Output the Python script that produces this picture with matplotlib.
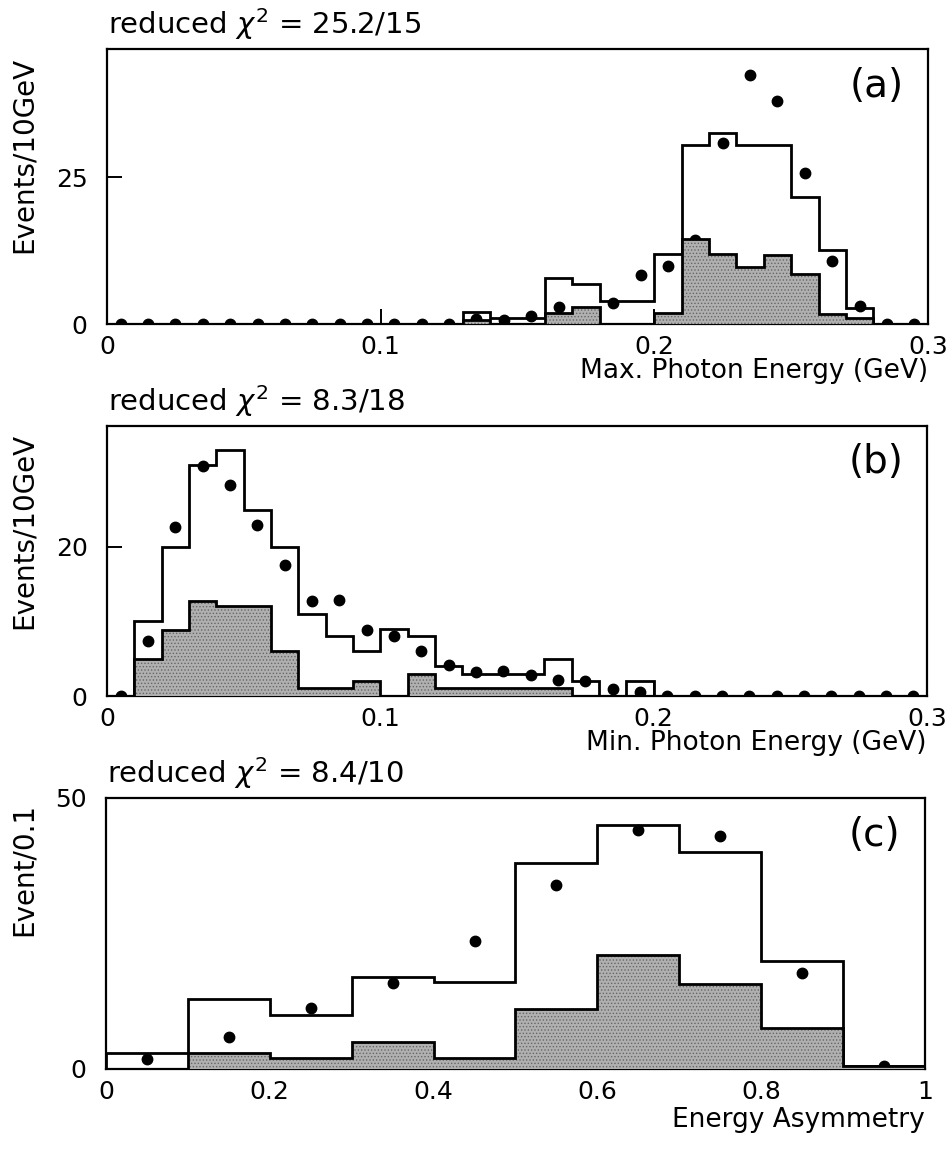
import numpy as np
import matplotlib
matplotlib.use('Agg')
import matplotlib.pyplot as plt

plt.rcParams['font.family'] = ['DejaVu Sans']
plt.rcParams['mathtext.fontset'] = 'dejavusans'
plt.rcParams['hatch.linewidth'] = 0.6

# --- data ----------------------------------------------------------------
# (a) max photon energy, 0.01 GeV bins from 0 to 0.3
edges_a = np.linspace(0.0, 0.3, 31)
mc_a = [0, 0, 0, 0, 0, 0, 0, 0, 0, 0, 0, 0, 0, 2, 1, 1, 7.8, 6.9, 3.9, 3.9,
        12, 30.5, 32.5, 30.5, 30.5, 21.7, 12.7, 2.7, 0, 0]
bg_a = [0, 0, 0, 0, 0, 0, 0, 0, 0, 0, 0, 0, 0, 0.7, 0, 0, 1.8, 2.9, 0, 0,
        1.8, 14.5, 12.0, 9.8, 11.7, 8.6, 1.7, 1.1, 0, 0]
data_a = [0, 0, 0, 0, 0, 0, 0, 0, 0, 0, 0, 0, 0, 0.8, 0.6, 1.4, 2.9, np.nan, 3.6, 8.3,
          9.9, 14.4, 30.9, 42.5, 38.0, 25.7, 10.7, 3.0, 0, 0]

# (b) min photon energy
edges_b = np.linspace(0.0, 0.3, 31)
mc_b = [0, 10, 20, 31, 33, 25, 20, 11, 8, 6, 9, 8, 4, 3, 3, 3, 5, 2, 0, 2,
        0, 0, 0, 0, 0, 0, 0, 0, 0, 0]
bg_b = [0, 5, 8.9, 12.8, 12, 12, 6, 1.1, 1.1, 2, 0, 2.9, 1.1, 1.1, 1.1, 1.1, 1.1, 0, 0, 0,
        0, 0, 0, 0, 0, 0, 0, 0, 0, 0]
data_b = [0, 7.4, 22.6, 30.8, 28.3, 22.9, 17.5, 12.7, 12.9, 8.9, 8.0, 6.1, 4.1, 3.2, 3.4,
          2.8, 2.1, 2.0, 0.9, 0.5, 0, 0, 0, 0, 0, 0, 0, 0, 0, 0]

# (c) energy asymmetry, 0.1 bins
edges_c = np.linspace(0.0, 1.0, 11)
mc_c = [3, 13, 10, 17, 16, 38, 45, 40, 20, 0.6]
bg_c = [0, 3, 2, 5, 2, 11, 21, 15.7, 7.6, 0.6]
data_c = [1.9, 5.9, 11.3, 15.9, 23.6, 34.0, 44.1, 42.9, 17.8, 0.6]

chi_texts = [r'reduced $\chi^2$ = 25.2/15', r'reduced $\chi^2$ = 8.3/18', r'reduced $\chi^2$ = 8.4/10']
panel_tags = ['(a)', '(b)', '(c)']
xlabels = ['Max. Photon Energy (GeV)', 'Min. Photon Energy (GeV)', 'Energy Asymmetry']
ylabels = ['Events/10GeV', 'Events/10GeV', 'Event/0.1']
xticks_e = [0, 0.1, 0.2, 0.3]
xticklabels_e = ['0', '0.1', '0.2', '0.3']
xticks_c = [0, 0.2, 0.4, 0.6, 0.8, 1.0]
xticklabels_c = ['0', '0.2', '0.4', '0.6', '0.8', '1']
yticks = [[0, 25], [0, 20], [0, 50]]
ylims = [46.9, 36.2, 50]

# --- layout (pixel boxes in a 953x1149 figure) ----------------------------
W, H = 953, 1149
boxes = [(107, 928, 49, 324), (107, 927, 426, 696), (106, 925, 798, 1069)]
label_gap = [54, 54, 58]
ylabel_top = [57, 433, 803]

fig = plt.figure(figsize=(W / 100, H / 100), dpi=100)

panels = [
    (edges_a, mc_a, bg_a, data_a, xticks_e, xticklabels_e),
    (edges_b, mc_b, bg_b, data_b, xticks_e, xticklabels_e),
    (edges_c, mc_c, bg_c, data_c, xticks_c, xticklabels_c),
]

for i, (edges, mc, bg, data, xt, xtl) in enumerate(panels):
    x0, x1, top, bot = boxes[i]
    ax = fig.add_axes([x0 / W, 1 - bot / H, (x1 - x0) / W, (bot - top) / H])
    h_px = bot - top

    centers = 0.5 * (edges[:-1] + edges[1:])

    # total expectation (open histogram)
    ax.stairs(mc, edges, color='black', linewidth=2.0, zorder=2)
    # data points
    ax.plot(centers, data, 'o', color='black', markersize=7.5, zorder=3)
    # background (shaded histogram)
    ax.stairs(bg, edges, fill=True, facecolor='#b0b0b0', edgecolor='#666666',
              hatch='.....', linewidth=0, zorder=4)
    ax.stairs(bg, edges, color='black', linewidth=2.0, zorder=5)

    ax.set_xlim(edges[0], edges[-1])
    ax.set_ylim(0, ylims[i])
    ax.set_xticks(xt, xtl)
    ax.set_yticks(yticks[i], [str(v) for v in yticks[i]])
    ax.tick_params(axis='both', direction='in', length=11, width=1.4, labelsize=18)
    ax.tick_params(axis='y', pad=14)
    ax.tick_params(axis='x', pad=8)
    for s in ax.spines.values():
        s.set_linewidth(1.6)

    ax.set_xlabel(xlabels[i], fontsize=19, loc='right', va='baseline')
    ax.xaxis.set_label_coords(1.0, -label_gap[i] / h_px)
    ax.set_ylabel(ylabels[i], fontsize=20, loc='top')
    ax.yaxis.set_label_coords((38 - x0) / (x1 - x0), 1 - (ylabel_top[i] - top) / h_px)

    ax.annotate(chi_texts[i], xy=(0, 1), xycoords='axes fraction',
                xytext=(1, 11), textcoords='offset points',
                ha='left', va='baseline', fontsize=21)
    ax.text(0.938, 0.865, panel_tags[i], transform=ax.transAxes,
            ha='center', va='center', fontsize=28)

fig.savefig('out.png', dpi=100)
